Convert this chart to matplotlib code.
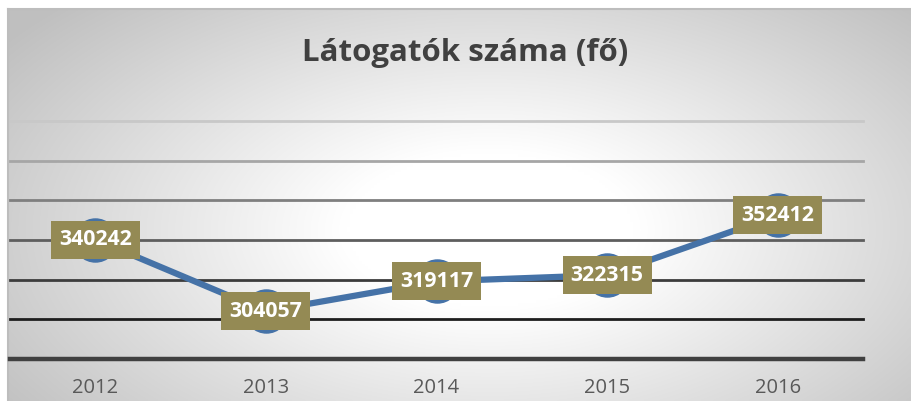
import numpy as np
import matplotlib
matplotlib.use("Agg")
import matplotlib.pyplot as plt
from matplotlib.patches import Rectangle
from matplotlib.transforms import Affine2D, ScaledTranslation

# ---- data ----
years = ["2012", "2013", "2014", "2015", "2016"]
visitors = [340242, 304057, 319117, 322315, 352412]
title = "Látogatók száma (fő)"
y_min, y_max, y_step = 280000, 400000, 20000

W, H, DPI = 911, 401, 100
fig = plt.figure(figsize=(W / DPI, H / DPI), dpi=DPI, facecolor="white")

# ---- background radial gradient (chart area) ----
bg = fig.add_axes([8 / W, 0, 1 - 8 / W, 1 - 9 / H], zorder=-10)
bg.set_axis_off()
xs = np.linspace(8, W, 300)
ys = np.linspace(9, H, 150)
X, Y = np.meshgrid(xs, ys)
cx, cy, rx, ry = 490, 230, 480, 260
r = np.sqrt(((X - cx) / rx) ** 2 + ((Y - cy) / ry) ** 2)
t = np.clip((r - 0.3) / 0.95, 0, 1)
g = 1 - 0.25 * t
img = np.dstack([g, g, g])
bg.imshow(img, aspect="auto", extent=[0, 1, 0, 1], origin="upper", interpolation="bilinear")
bg.set_xlim(0, 1)
bg.set_ylim(0, 1)
bg.plot([0, 0], [0, 1], color="#bdbdbd", lw=1.5, transform=bg.transAxes, clip_on=False)
bg.plot([0, 1], [1, 1], color="#bdbdbd", lw=1.5, transform=bg.transAxes, clip_on=False)

# ---- plot axes ----
left, right = 10 / W, 863 / W
bottom, top = 1 - 359 / H, 1 - 121 / H
ax = fig.add_axes([left, bottom, right - left, top - bottom])
ax.set_facecolor("none")
for s in ax.spines.values():
    s.set_visible(False)

x = np.arange(len(years))
ax.set_xlim(-0.5, len(years) - 0.5)
ax.set_ylim(y_min, y_max)

# graded gridlines
grid_vals = np.arange(y_min + y_step, y_max + 1, y_step)
grid_cols = ["#1e1e1e", "#3c3c3c", "#5e5e5e", "#7f7f7f", "#a6a6a6", "#c8c8c8"]
for v, c in zip(grid_vals, grid_cols):
    ax.axhline(v, color=c, lw=2.0, zorder=1, clip_on=False)
ax.axhline(y_min, color="#404040", lw=3.2, zorder=1, clip_on=False)

ax.plot(x, visitors, color="#4572A7", lw=4.5, marker="o", markersize=31,
        markerfacecolor="#4572A7", markeredgecolor="#4572A7", zorder=3,
        solid_capstyle="round")

# data labels in olive boxes (box size in pixels, anchored at each data point)
bw, bh = 89, 38
for xi, v in zip(x, visitors):
    tr = Affine2D().translate(-bw / 2, -bh / 2) + ScaledTranslation(xi, v, ax.transData)
    rect = Rectangle((0, 0), bw, bh, facecolor="#948A54", edgecolor="none", zorder=4,
                     transform=tr, clip_on=False)
    ax.add_artist(rect)
    ax.text(xi, v, f"{v}", ha="center", va="center", color="white", fontsize=15.3,
            fontweight="bold", family="Open Sans", zorder=5)

ax.set_yticks([])
ax.set_xticks(x)
ax.set_xticklabels(years, family="Open Sans", fontsize=14.5, color="#595959")
ax.tick_params(axis="x", length=0, pad=13.5)

fig.text(465 / W, 1 - 53 / H, title, ha="center", va="center", fontsize=22.5,
         fontweight="bold", color="#404040", family="Open Sans")

fig.savefig("out.png", dpi=DPI, facecolor="white")
